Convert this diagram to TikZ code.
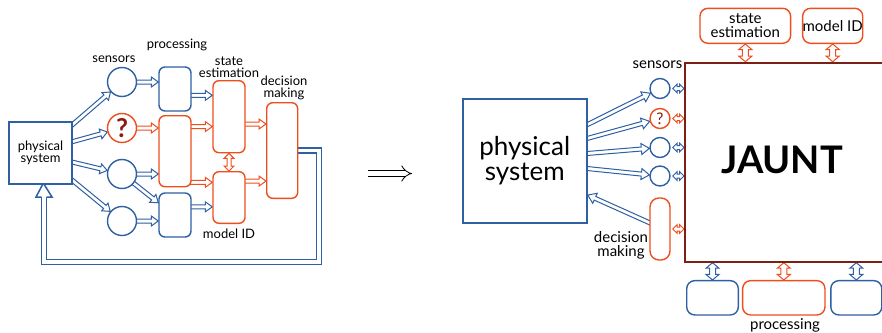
\documentclass[tikz,border=0pt]{standalone}
\usepackage{fontspec}
\setmainfont{Lato}
\usetikzlibrary{calc,arrows.meta}
\definecolor{cblue}{RGB}{46,96,163}
\definecolor{corange}{RGB}{238,78,30}
\definecolor{cq}{RGB}{140,28,16}
\definecolor{cjaunt}{RGB}{122,32,22}
\pgfdeclarelayer{bg}
\pgfsetlayers{bg,main}
\newcommand\aHW{2pt}\newcommand\aHH{5pt}\newcommand\aHL{7pt}
\newcommand\bW{2pt}\newcommand\bH{4.5pt}\newcommand\bL{4.5pt}
\newcommand\harr[3]{%
  \path #2 -- #3 coordinate[pos=0] (hs0) coordinate[pos=1] (he);
  \coordinate (hs) at ($(hs0)!-3pt!(he)$);
  \coordinate (hb) at ($(he)!\aHL!(hs)$);
  \filldraw[fill=white,draw=#1,line width=1pt]
    ($(hs)!\aHW!90:(he)$) -- ($(hb)!\aHW!-90:(hs)$) -- ($(hb)!\aHH!-90:(hs)$) -- (he)
    -- ($(hb)!\aHH!90:(hs)$) -- ($(hb)!\aHW!90:(hs)$) -- ($(hs)!\aHW!-90:(he)$) -- cycle;}
\newcommand\dharr[3]{%
  \path #2 -- #3 coordinate[pos=0] (hs) coordinate[pos=1] (he);
  \coordinate (hb1) at ($(hs)!\bL!(he)$);
  \coordinate (hb2) at ($(he)!\bL!(hs)$);
  \filldraw[fill=white,draw=#1,line width=1pt]
    (hs) -- ($(hb1)!\bH!90:(he)$) -- ($(hb1)!\bW!90:(he)$) -- ($(hb2)!\bW!-90:(hs)$)
    -- ($(hb2)!\bH!-90:(hs)$) -- (he) -- ($(hb2)!\bH!90:(hs)$) -- ($(hb2)!\bW!90:(hs)$)
    -- ($(hb1)!\bW!-90:(he)$) -- ($(hb1)!\bH!-90:(he)$) -- cycle;}
\begin{document}
\begin{tikzpicture}[x=1pt,y=-1pt,
  lbl/.style={font=\fontsize{13}{12.5}\selectfont, align=center, inner sep=0pt},
  rlbl/.style={font=\fontsize{15}{14}\selectfont, align=center, inner sep=0pt},
  bx/.style={draw=#1, rounded corners=6pt, line width=1.4pt, fill=white, inner sep=0pt},
  cir/.style={draw=#1, circle, line width=1.4pt, fill=white, inner sep=0pt}]
\useasboundingbox (0,0) rectangle (882,332);
\clip (0,0) rectangle (882,332);
% ---------- left diagram ----------
\node[draw=cblue, line width=1.3pt, fill=white, minimum width=63pt, minimum height=62pt,
  inner sep=0pt, align=center, font=\fontsize{13}{12.5}\selectfont] (ps1) at (40.5,153) {physical\\system};
\node[cir=cblue, minimum size=29pt] (c1) at (122,82) {};
\node[cir=corange, text=cq, minimum size=29pt, font=\fontsize{26}{26}\selectfont\bfseries] (c2) at (122,128) {?};
\node[cir=cblue, minimum size=29pt] (c3) at (122,174) {};
\node[cir=cblue, minimum size=29pt] (c4) at (122,221) {};
\node[bx=cblue, minimum width=32pt, minimum height=44pt] (p1) at (175,89) {};
\node[bx=corange, minimum width=32pt, minimum height=71pt] (p2) at (175,151.2) {};
\node[bx=cblue, minimum width=32pt, minimum height=44pt] (p3) at (175,215) {};
\node[bx=corange, minimum width=32pt, minimum height=72pt] (se) at (229,116.7) {};
\node[bx=corange, minimum width=32pt, minimum height=51.6pt] (mid) at (229,197.5) {};
\node[bx=corange, minimum width=31pt, minimum height=95.6pt] (dm) at (282.2,150.5) {};
\node[lbl] (lsens) at (114,59) {sensors};
\node[lbl] (lproc) at (177,45) {processing};
\node[lbl] (lse) at (229,67) {state\\estimation};
\node[lbl] (ldm) at (284,88) {decision\\making};
\node[lbl] (lmid) at (229,234) {model ID};
% implies symbol between the two diagrams
\coordinate (impL) at (368,173.5);
\coordinate (impR) at (412,173.5);
\draw[black, line width=0.8pt, double=white, double distance=5pt,
  -{Implies[length=6pt, width=15pt]}] (impL) -- (impR);
% ---------- right diagram ----------
\node[draw=cblue, line width=2pt, fill=white, minimum width=124pt, minimum height=124pt,
  inner sep=0pt, align=center, font=\fontsize{26}{25}\selectfont] (ps2) at (524.7,161) {physical\\system};
\node[cir=cblue, minimum size=20pt] (rc1) at (660,88.5) {};
\node[cir=corange, text=cq, minimum size=20pt, font=\fontsize{16}{16}\selectfont] (rc2) at (660,118.5) {?};
\node[cir=cblue, minimum size=20pt] (rc3) at (660,147.5) {};
\node[cir=cblue, minimum size=20pt] (rc4) at (660,176) {};
\node[bx=corange, rounded corners=9pt, minimum width=20pt, minimum height=62pt] (rdm) at (660,229) {};
\node[draw=cjaunt, line width=2pt, fill=white, anchor=north west, minimum width=240pt,
  minimum height=199pt, inner sep=0pt] (J) at (684,61.7) {};
\node[font=\fontsize{38}{38}\selectfont\bfseries, inner sep=0pt] (jt) at (782,160) {JAUNT};
\node[bx=corange, rounded corners=8pt, minimum width=90.7pt, minimum height=35pt,
  text=black, font=\fontsize{15}{14}\selectfont, align=center] (rse) at (745.3,25.8) {state\\estimation};
\node[bx=corange, rounded corners=8pt, minimum width=60pt, minimum height=35pt,
  text=black, font=\fontsize{15}{14}\selectfont] (rmid) at (832.7,25.8) {model ID};
\node[bx=cblue, rounded corners=8pt, minimum width=51.6pt, minimum height=34.3pt] (bA) at (712.5,297.8) {};
\node[bx=corange, rounded corners=8pt, minimum width=82.3pt, minimum height=34.3pt] (bB) at (783.8,297.8) {};
\node[bx=cblue, rounded corners=8pt, minimum width=51pt, minimum height=34.3pt] (bC) at (856.3,297.8) {};
\node[rlbl] (rsens) at (657.5,65) {sensors};
\node[rlbl] (rdml) at (621,245) {decision\\making};
\node[rlbl] (rproc) at (785,325) {processing};
% ---------- connectors ----------
\begin{pgfonlayer}{bg}
\harr{cblue}{($(ps1.north east)!0.05!(ps1.south east)$)}{(c1)}
\harr{cblue}{($(ps1.north east)!0.32!(ps1.south east)$)}{(c2)}
\harr{cblue}{($(ps1.north east)!0.645!(ps1.south east)$)}{(c3)}
\harr{cblue}{($(ps1.north east)!0.935!(ps1.south east)$)}{(c4)}
\harr{cblue}{(c1.east)}{(c1.east -| p1.west)}
\harr{corange}{(c2.east)}{(c2.east -| p2.west)}
\harr{cblue}{(c3.east)}{(c3.east -| p2.west)}
\harr{cblue}{(c3)}{($(p3.north west)!0.23!(p3.south west)$)}
\harr{cblue}{(c4.east)}{(c4.east -| p3.west)}
\coordinate (j1) at ($(p1.north east)!0.64!(p1.south east)$);
\coordinate (j2) at ($(p2.north east)!0.16!(p2.south east)$);
\coordinate (j3) at ($(p2.north east)!0.93!(p2.south east)$);
\coordinate (j4) at ($(p3.north east)!0.32!(p3.south east)$);
\coordinate (j5) at ($(se.north east)!0.6!(se.south east)$);
\coordinate (j6) at ($(mid.north east)!0.19!(mid.south east)$);
\harr{cblue}{(j1)}{(j1 -| se.west)}
\harr{corange}{(j2)}{(j2 -| se.west)}
\harr{corange}{(j3)}{(j3 -| mid.west)}
\harr{cblue}{(j4)}{(j4 -| mid.west)}
\harr{corange}{(j5)}{(j5 -| dm.west)}
\harr{corange}{(j6)}{(j6 -| dm.west)}
{\renewcommand\bH{5pt}\renewcommand\bL{5pt}
 \dharr{corange}{(se.south)}{(mid.north)}}
\draw[cblue, line width=1.5pt, double=white, double distance=3.5pt] (dm.east) -| (319,262) -| (44,197);
\coordinate (ftip) at ($(ps1.south west)+(35,-1.5)$);
\filldraw[fill=white, draw=cblue, line width=1.5pt] (41.5,197) -- (36,197) -- (ftip) -- (52,197) -- (46.5,197);
% right
{\renewcommand\aHH{5.5pt}\renewcommand\aHL{8pt}
\harr{cblue}{($(ps2.north east)!0.21!(ps2.south east)$)}{(rc1)}
\harr{cblue}{($(ps2.north east)!0.32!(ps2.south east)$)}{(rc2)}
\harr{cblue}{($(ps2.north east)!0.44!(ps2.south east)$)}{(rc3)}
\harr{cblue}{($(ps2.north east)!0.56!(ps2.south east)$)}{(rc4)}
\harr{cblue}{($(rdm.north west)!0.4!(rdm.south west)$)}{($(ps2.north east)!0.77!(ps2.south east)$)}}
\dharr{cblue}{($(rc1.east)+(2,0)$)}{(rc1.east -| J.west)}
\dharr{corange}{($(rc2.east)+(2,0)$)}{(rc2.east -| J.west)}
\dharr{cblue}{($(rc3.east)+(2,0)$)}{(rc3.east -| J.west)}
\dharr{cblue}{($(rc4.east)+(2,0)$)}{(rc4.east -| J.west)}
\dharr{corange}{($(rdm.east)+(2,0)$)}{(rdm.east -| J.west)}
{\renewcommand\bW{3pt}\renewcommand\bH{6.5pt}\renewcommand\bL{5.5pt}
\dharr{corange}{(rse.south)}{(rse.south |- J.north)}
\dharr{corange}{(rmid.south)}{(rmid.south |- J.north)}
\dharr{cblue}{(bA.north)}{(bA.north |- J.south)}
\dharr{corange}{(bB.north)}{(bB.north |- J.south)}
\dharr{cblue}{(bC.north)}{(bC.north |- J.south)}}
\end{pgfonlayer}
\end{tikzpicture}
\end{document}
